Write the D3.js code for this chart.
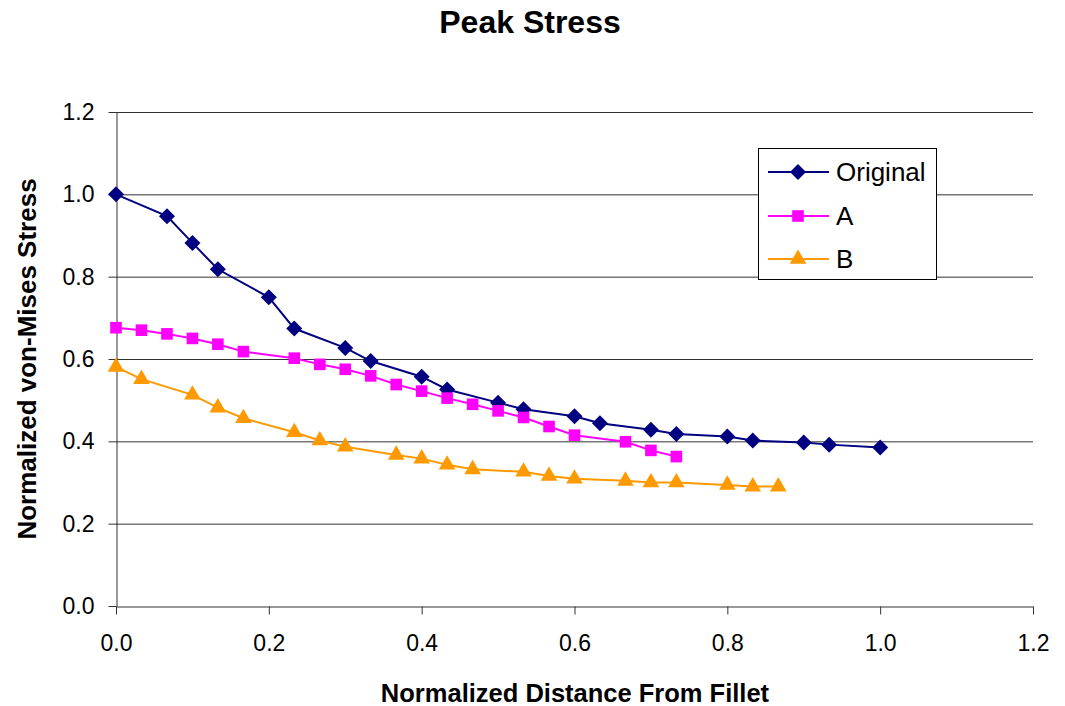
<!DOCTYPE html>
<html>
<head>
    <script src="https://d3js.org/d3.v7.min.js"></script>
    <style>
        body { margin: 0; background: #fff; }
        text { font-family: "Liberation Sans", Arial, sans-serif; }
    </style>
</head>
<body>
    <script>
        // data
        const xOriginal = [0, 0.0667, 0.1, 0.1333, 0.2, 0.2333, 0.3, 0.3333, 0.4, 0.4333, 0.5, 0.5333, 0.6, 0.6333, 0.7, 0.7333, 0.8, 0.8333, 0.9, 0.9333, 1.0];
        const yOriginal = [1.0, 0.947, 0.882, 0.818, 0.750, 0.674, 0.627, 0.595, 0.557, 0.526, 0.494, 0.478, 0.461, 0.444, 0.428, 0.418, 0.412, 0.402, 0.397, 0.392, 0.385];

        const xA = [0, 0.0333, 0.0667, 0.1, 0.1333, 0.1667, 0.2333, 0.2667, 0.3, 0.3333, 0.3667, 0.4, 0.4333, 0.4667, 0.5, 0.5333, 0.5667, 0.6, 0.6667, 0.7, 0.7333];
        const yA = [0.676, 0.670, 0.661, 0.650, 0.636, 0.618, 0.602, 0.587, 0.575, 0.559, 0.538, 0.522, 0.505, 0.490, 0.474, 0.458, 0.436, 0.415, 0.399, 0.378, 0.363];

        const xB = [0, 0.0333, 0.1, 0.1333, 0.1667, 0.2333, 0.2667, 0.3, 0.3667, 0.4, 0.4333, 0.4667, 0.5333, 0.5667, 0.6, 0.6667, 0.7, 0.7333, 0.8, 0.8333, 0.8667];
        const yB = [0.581, 0.551, 0.513, 0.482, 0.456, 0.422, 0.402, 0.387, 0.367, 0.358, 0.343, 0.332, 0.326, 0.316, 0.309, 0.304, 0.300, 0.300, 0.294, 0.290, 0.290];

        const seriesNames = ["Original", "A", "B"];
        const xTicks = [0, 0.2, 0.4, 0.6, 0.8, 1.0, 1.2];
        const yTicks = [0, 0.2, 0.4, 0.6, 0.8, 1.0, 1.2];

        const series = [
            { name: seriesNames[0], xs: xOriginal, ys: yOriginal, color: "#000080", shape: "diamond" },
            { name: seriesNames[1], xs: xA, ys: yA, color: "#FF00FF", shape: "square" },
            { name: seriesNames[2], xs: xB, ys: yB, color: "#FF9900", shape: "triangle" }
        ];

        const width = 1065, height = 706;
        const plotLeft = 116, plotRight = 1033, plotTop = 112, plotBottom = 606;

        const svg = d3.select("body").append("svg")
            .attr("width", width)
            .attr("height", height);

        const x = d3.scaleLinear().domain([0, 1.2]).range([plotLeft, plotRight]);
        const y = d3.scaleLinear().domain([0, 1.2]).range([plotBottom, plotTop]);

        // gridlines
        svg.append("g")
            .selectAll("line")
            .data(yTicks.filter(d => d > 0))
            .join("line")
            .attr("x1", plotLeft).attr("x2", plotRight)
            .attr("y1", d => y(d) + 0.5).attr("y2", d => y(d) + 0.5)
            .attr("stroke", "#333")
            .attr("stroke-width", 1);

        // axes
        const xAxis = svg.append("g")
            .attr("transform", `translate(0,${plotBottom + 0.5})`)
            .call(d3.axisBottom(x).tickValues(xTicks).tickFormat(d3.format(".1f")).tickSize(8).tickSizeOuter(0).tickPadding(20));
        const yAxis = svg.append("g")
            .attr("transform", `translate(${plotLeft + 0.5},0)`)
            .call(d3.axisLeft(y).tickValues(yTicks).tickFormat(d3.format(".1f")).tickSize(8).tickSizeOuter(0).tickPadding(14));

        [xAxis, yAxis].forEach(ax => {
            ax.select(".domain").attr("stroke", "#333");
            ax.selectAll(".tick line").attr("stroke", "#333");
            ax.selectAll(".tick text")
                .attr("fill", "#000")
                .style("font-size", "23px")
                .style("font-family", "'Liberation Sans', Arial, sans-serif");
        });

        // marker generator
        function marker(shape) {
            if (shape === "diamond") return d3.symbol().type(d3.symbolSquare).size(128)();
            if (shape === "square") return d3.symbol().type(d3.symbolSquare).size(135)();
            return d3.symbol().type(d3.symbolTriangle).size(120)();
        }

        const line = d3.line()
            .x(d => x(d[0]))
            .y(d => y(d[1]));

        series.forEach(s => {
            const pts = s.xs.map((v, i) => [v, s.ys[i]]);
            svg.append("path")
                .datum(pts)
                .attr("d", line)
                .attr("fill", "none")
                .attr("stroke", s.color)
                .attr("stroke-width", 2);
            svg.append("g")
                .selectAll("path")
                .data(pts)
                .join("path")
                .attr("d", marker(s.shape))
                .attr("transform", d => `translate(${x(d[0])},${y(d[1])})` + (s.shape === "diamond" ? " rotate(45)" : ""))
                .attr("fill", s.color);
        });

        // legend
        const legend = svg.append("g");
        legend.append("rect")
            .attr("x", 758.5).attr("y", 148.5)
            .attr("width", 178).attr("height", 131)
            .attr("fill", "#fff")
            .attr("stroke", "#000")
            .attr("stroke-width", 1);
        const ly = [172, 216, 259];
        series.forEach((s, i) => {
            legend.append("line")
                .attr("x1", 768).attr("x2", 829)
                .attr("y1", ly[i]).attr("y2", ly[i])
                .attr("stroke", s.color)
                .attr("stroke-width", 2);
            legend.append("path")
                .attr("d", marker(s.shape))
                .attr("transform", `translate(798,${ly[i]})` + (s.shape === "diamond" ? " rotate(45)" : ""))
                .attr("fill", s.color);
            legend.append("text")
                .attr("x", 836).attr("y", ly[i])
                .attr("dy", "0.35em")
                .style("font-size", "26px")
                .text(s.name);
        });

        // titles
        svg.append("text")
            .attr("x", 530).attr("y", 33)
            .attr("text-anchor", "middle")
            .style("font-size", "32px")
            .style("font-weight", "bold")
            .text("Peak Stress");

        svg.append("text")
            .attr("x", 575).attr("y", 702)
            .attr("text-anchor", "middle")
            .style("font-size", "25.5px")
            .style("font-weight", "bold")
            .text("Normalized Distance From Fillet");

        svg.append("text")
            .attr("transform", "translate(36,359) rotate(-90)")
            .attr("text-anchor", "middle")
            .style("font-size", "26px")
            .style("font-weight", "bold")
            .text("Normalized von-Mises Stress");
    </script>
</body>
</html>
